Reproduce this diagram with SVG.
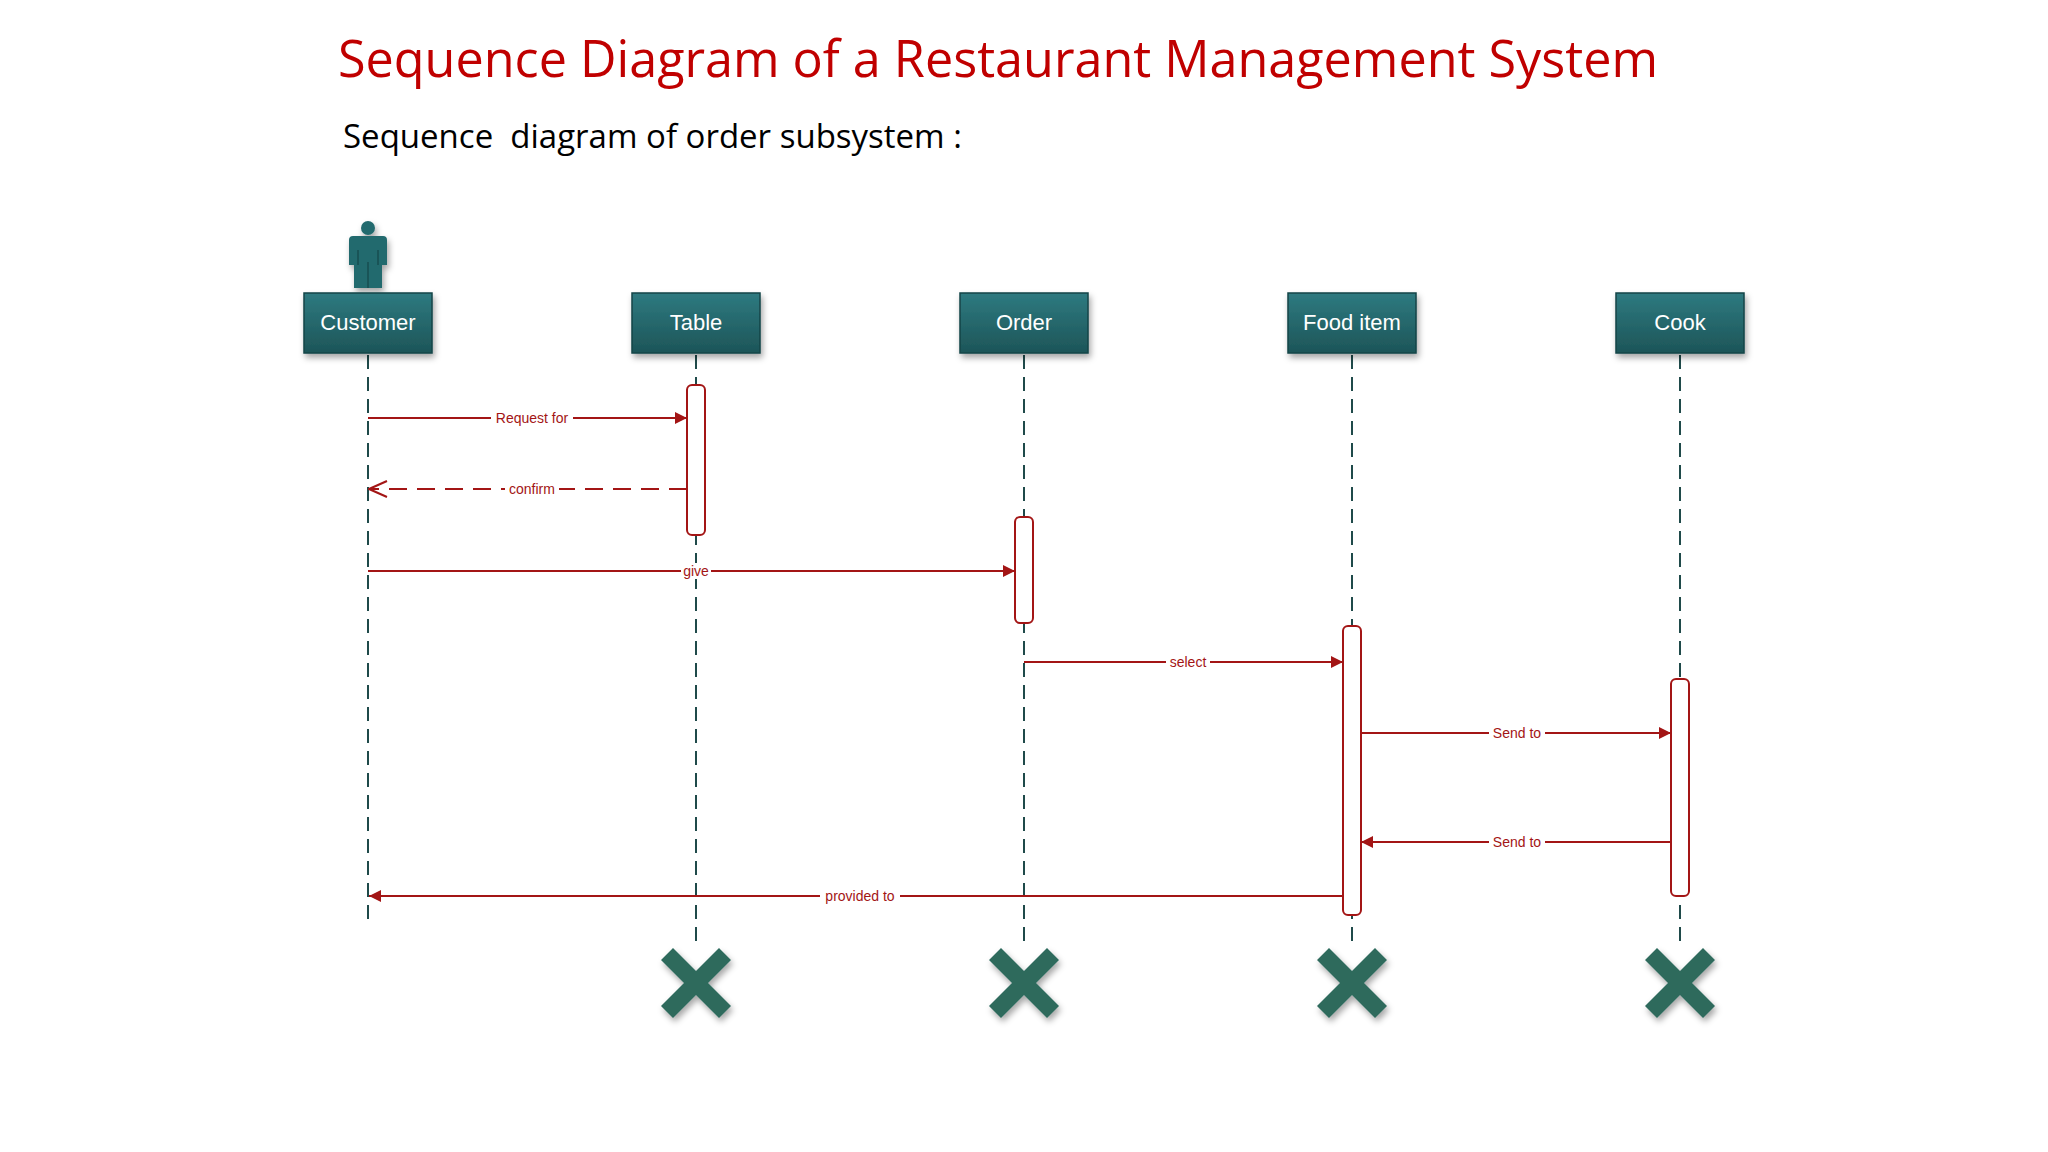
<svg xmlns="http://www.w3.org/2000/svg" width="2048" height="1152" viewBox="0 0 2048 1152">
<defs>
<linearGradient id="g" x1="0" y1="0" x2="0" y2="1"><stop offset="0" stop-color="#2e7a80"/><stop offset="1" stop-color="#1d5558"/></linearGradient>
<filter id="sh" x="-20%" y="-20%" width="150%" height="160%"><feDropShadow dx="2" dy="4" stdDeviation="3" flood-color="#000" flood-opacity="0.35"/></filter>
<marker id="fa" viewBox="0 0 12 12" refX="12" refY="6" markerWidth="12" markerHeight="12" markerUnits="userSpaceOnUse" orient="auto"><path d="M0,0 L12,6 L0,12 z" fill="#a31515"/></marker>
<marker id="oa" viewBox="0 0 20 20" refX="19" refY="10" markerWidth="20" markerHeight="20" markerUnits="userSpaceOnUse" orient="auto"><path d="M1,2 L19,10 L1,18" fill="none" stroke="#a31515" stroke-width="2"/></marker>
</defs>
<style>
.box{fill:url(#g);stroke:#164447;stroke-width:1.5;filter:url(#sh)}
.nt{font-family:"Liberation Sans",Arial,sans-serif;font-size:22px;fill:#fff;text-anchor:middle}
.life{stroke:#1f4a4a;stroke-width:2;stroke-dasharray:14,8}
.act{fill:#fff;stroke:#a31515;stroke-width:2}
.msg{stroke:#a31515;stroke-width:2;fill:none}
.lb{font-family:"Liberation Sans",Arial,sans-serif;font-size:14px;fill:#a31515;text-anchor:middle}
.x{fill:#2e6b5c;filter:url(#sh)}
</style>
<rect width="2048" height="1152" fill="#fff"/>
<text x="338" y="77" font-family="'Open Sans','Liberation Sans',sans-serif" font-size="52" fill="#c00000" textLength="1320" lengthAdjust="spacingAndGlyphs">Sequence Diagram of a Restaurant Management System</text>
<text x="343" y="148" font-family="'Open Sans','Liberation Sans',sans-serif" font-size="33" fill="#000" xml:space="preserve">Sequence  diagram of order subsystem :</text>

<g id="lifelines">
<line class="life" x1="368" y1="355" x2="368" y2="922"/>
<line class="life" x1="696" y1="355" x2="696" y2="943"/>
<line class="life" x1="1024" y1="355" x2="1024" y2="943"/>
<line class="life" x1="1352" y1="355" x2="1352" y2="943"/>
<line class="life" x1="1680" y1="355" x2="1680" y2="943"/>
</g>

<g id="customer">
<g fill="#236a6e" filter="url(#sh)">
<circle cx="368" cy="228" r="7"/>
<path d="M353,236 H383 Q387,236 387,240 V265 H382 V288 H354 V265 H349 V240 Q349,236 353,236 z"/>
</g>
<path d="M368,262 V288 M358,250 V265 M378,250 V265" stroke="#174d50" stroke-width="1.5"/>
<rect class="box" x="304" y="293" width="128" height="60"/>
<text class="nt" x="368" y="330">Customer</text>
</g>
<g id="table"><rect class="box" x="632" y="293" width="128" height="60"/><text class="nt" x="696" y="330">Table</text></g>
<g id="order"><rect class="box" x="960" y="293" width="128" height="60"/><text class="nt" x="1024" y="330">Order</text></g>
<g id="food"><rect class="box" x="1288" y="293" width="128" height="60"/><text class="nt" x="1352" y="330">Food item</text></g>
<g id="cook"><rect class="box" x="1616" y="293" width="128" height="60"/><text class="nt" x="1680" y="330">Cook</text></g>

<g id="activations">
<rect class="act" x="687" y="385" width="18" height="150" rx="5"/>
<rect class="act" x="1015" y="517" width="18" height="106" rx="5"/>
<rect class="act" x="1343" y="626" width="18" height="289" rx="5"/>
<rect class="act" x="1671" y="679" width="18" height="217" rx="5"/>
</g>

<g id="connectors">
<line class="msg" x1="368" y1="418" x2="687" y2="418" marker-end="url(#fa)"/>
<line class="msg" x1="687" y1="489" x2="369" y2="489" stroke-dasharray="18,10" marker-end="url(#oa)"/>
<line class="msg" x1="368" y1="571" x2="1015" y2="571" marker-end="url(#fa)"/>
<line class="msg" x1="1024" y1="662" x2="1343" y2="662" marker-end="url(#fa)"/>
<line class="msg" x1="1361" y1="733" x2="1671" y2="733" marker-end="url(#fa)"/>
<line class="msg" x1="1671" y1="842" x2="1361" y2="842" marker-end="url(#fa)"/>
<line class="msg" x1="1343" y1="896" x2="369" y2="896" marker-end="url(#fa)"/>
<g>
<rect x="491" y="410" width="82" height="16" fill="#fff"/><text class="lb" x="532" y="423">Request for</text>
<rect x="505" y="481" width="54" height="16" fill="#fff"/><text class="lb" x="532" y="494">confirm</text>
<rect x="681" y="563" width="30" height="16" fill="#fff"/><text class="lb" x="696" y="576">give</text>
<rect x="1166" y="654" width="44" height="16" fill="#fff"/><text class="lb" x="1188" y="667">select</text>
<rect x="1489" y="725" width="56" height="16" fill="#fff"/><text class="lb" x="1517" y="738">Send to</text>
<rect x="1489" y="834" width="56" height="16" fill="#fff"/><text class="lb" x="1517" y="847">Send to</text>
<rect x="820" y="888" width="80" height="16" fill="#fff"/><text class="lb" x="860" y="901">provided to</text>
</g>
</g>

<g id="destroys">
<path class="x" transform="translate(696,983)" d="M-23,-35 L0,-12 L23,-35 L35,-23 L12,0 L35,23 L23,35 L0,12 L-23,35 L-35,23 L-12,0 L-35,-23 z"/>
<path class="x" transform="translate(1024,983)" d="M-23,-35 L0,-12 L23,-35 L35,-23 L12,0 L35,23 L23,35 L0,12 L-23,35 L-35,23 L-12,0 L-35,-23 z"/>
<path class="x" transform="translate(1352,983)" d="M-23,-35 L0,-12 L23,-35 L35,-23 L12,0 L35,23 L23,35 L0,12 L-23,35 L-35,23 L-12,0 L-35,-23 z"/>
<path class="x" transform="translate(1680,983)" d="M-23,-35 L0,-12 L23,-35 L35,-23 L12,0 L35,23 L23,35 L0,12 L-23,35 L-35,23 L-12,0 L-35,-23 z"/>
</g>
</svg>
